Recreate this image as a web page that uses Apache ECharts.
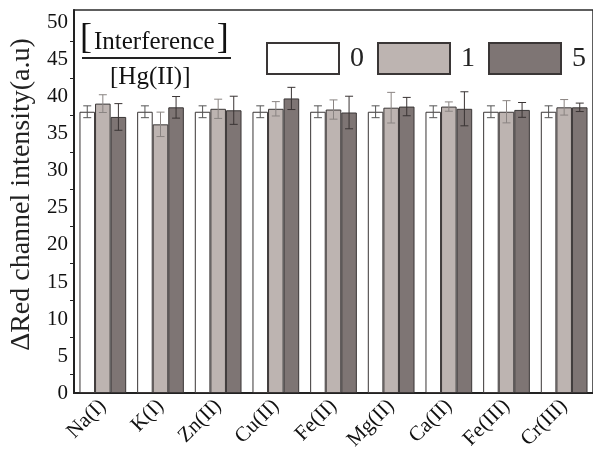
<!DOCTYPE html>
<html>
<head>
<meta charset="utf-8">
<script src="https://cdn.jsdelivr.net/npm/echarts@6/dist/echarts.min.js"></script>
<style>
html,body{margin:0;padding:0;background:#fff;}
#chart{width:593px;height:453px;}
</style>
</head>
<body>
<div id="chart"></div>
<script>
const categories = ['Na(I)','K(I)','Zn(II)','Cu(II)','Fe(II)','Mg(II)','Ca(II)','Fe(III)','Cr(III)'];
const seriesNames = ['0','1','5'];
const values0 = [38.0, 38.0, 38.0, 38.0, 38.0, 38.0, 38.0, 38.0, 38.0];
const errors0 = [0.8, 0.8, 0.8, 0.8, 0.8, 0.8, 0.8, 0.8, 0.8];
const values1 = [39.1, 36.3, 38.4, 38.4, 38.3, 38.55, 38.7, 38.0, 38.6];
const errors1 = [1.2, 1.65, 1.3, 0.97, 1.3, 2.07, 0.63, 1.5, 1.05];
const values5 = [37.3, 38.6, 38.2, 39.8, 37.9, 38.7, 38.4, 38.25, 38.6];
const errors5 = [1.8, 1.46, 1.9, 1.5, 2.2, 1.24, 2.3, 1.0, 0.57];
const yTicks = [0, 5, 10, 15, 20, 25, 30, 35, 40, 45, 50];

const allValues = [values0, values1, values5];
const allErrors = [errors0, errors1, errors5];
const barColors = ['#ffffff', '#bdb4b1', '#7e7574'];
const errColors = ['#555555', '#8a8482', '#3a3434'];
const catGap = 0.19;
const FONT = 'Liberation Serif';

const chart = echarts.init(document.getElementById('chart'), null, {renderer: 'canvas'});

const series = [];
seriesNames.forEach((name, s) => {
  series.push({
    name: name,
    type: 'bar',
    data: allValues[s],
    barGap: '0%',
    barCategoryGap: (catGap * 100) + '%',
    itemStyle: {color: barColors[s], borderColor: '#3a3636', borderWidth: 1},
    emphasis: {disabled: true},
    z: 2
  });
});
seriesNames.forEach((name, s) => {
  series.push({
    type: 'custom',
    name: 'err' + name,
    data: allValues[s].map((v, i) => [i, v, allErrors[s][i]]),
    encode: {x: 0, y: 1},
    z: 5,
    silent: true,
    renderItem: function (params, api) {
      const i = api.value(0), v = api.value(1), e = api.value(2);
      const band = api.size([1, 0])[0];
      const bw = band * (1 - catGap) / 3;
      const c = api.coord([i, v]);
      const x = c[0] + (s - 1) * bw;
      const top = api.coord([i, v + e])[1];
      const bot = api.coord([i, v - e])[1];
      const cap = 4;
      const st = {stroke: errColors[s], lineWidth: 1, fill: null};
      return {
        type: 'group',
        children: [
          {type: 'line', shape: {x1: x, y1: top, x2: x, y2: bot}, style: st},
          {type: 'line', shape: {x1: x - cap, y1: top, x2: x + cap, y2: top}, style: st},
          {type: 'line', shape: {x1: x - cap, y1: bot, x2: x + cap, y2: bot}, style: st}
        ]
      };
    }
  });
});

const option = {
  backgroundColor: '#ffffff',
  animation: false,
  grid: {
    left: 72, top: 10, bottom: 60, width: 522,
    show: true, borderColor: '#2a2a2a', borderWidth: 1.5, backgroundColor: 'transparent'
  },
  legend: {
    data: seriesNames,
    left: 261, top: 37,
    itemWidth: 72, itemHeight: 31, itemGap: 13,
    icon: 'rect',
    textStyle: {fontFamily: FONT, fontSize: 28, color: '#222', padding: [0, 0, 0, 6]}
  },
  xAxis: {
    type: 'category',
    data: categories,
    axisLine: {lineStyle: {color: '#222', width: 2}},
    axisTick: {show: false},
    axisLabel: {rotate: 45, fontFamily: FONT, fontSize: 21, color: '#111', margin: 10, interval: 0}
  },
  yAxis: {
    type: 'value',
    min: 0, max: 51.75, interval: 5,
    name: 'ΔRed channel intensity(a.u)',
    nameLocation: 'middle',
    nameGap: 38,
    nameTextStyle: {fontFamily: FONT, fontSize: 28, color: '#222', padding: [0, 0, 0, 14]},
    axisLine: {show: true, lineStyle: {color: '#222', width: 2}},
    axisTick: {show: false},
    minorTick: {show: true, splitNumber: 2, length: 4, lineStyle: {color: '#222', width: 1}},
    splitLine: {show: false},
    axisLabel: {
      fontFamily: FONT, fontSize: 21, color: '#111', margin: 6, showMaxLabel: false,
      formatter: function (v) { return yTicks.indexOf(v) >= 0 ? String(v) : ''; }
    }
  },
  graphic: [
    {
      type: 'text', left: 80, top: 21,
      style: {
        text: '{br|[}{t|Interference}{br|]}',
        rich: {
          br: {fontFamily: FONT, fontSize: 36, fill: '#111'},
          t: {fontFamily: FONT, fontSize: 25, fill: '#111', padding: [6, 2, 0, 2]}
        }
      }
    },
    {
      type: 'line',
      shape: {x1: 82, y1: 58, x2: 231, y2: 58},
      style: {stroke: '#222', lineWidth: 2}
    },
    {
      type: 'text', left: 110, top: 65,
      style: {text: '[Hg(II)]', fontFamily: FONT, fontSize: 25, fill: '#111'}
    }
  ],
  series: series
};
chart.setOption(option);
</script>
</body>
</html>
